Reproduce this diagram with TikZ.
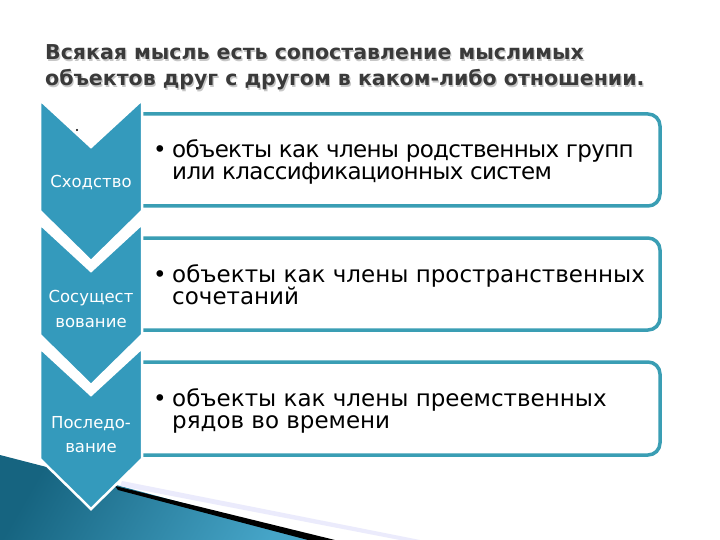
\documentclass[tikz,border=0pt]{standalone}
\usepackage{fontspec}
\setmainfont{DejaVu Sans}
\newfontfamily\bodyfont{DejaVu Sans}
\newfontfamily\bodytight[LetterSpace=-2.9]{DejaVu Sans}
\newfontfamily\chevfont{DejaVu Sans}
\definecolor{teal}{RGB}{52,154,188}
\definecolor{boxline}{RGB}{58,158,180}
\definecolor{titlegray}{RGB}{58,58,58}
\definecolor{darkteal}{RGB}{22,100,128}
\definecolor{lightteal}{RGB}{70,165,200}
\tikzset{
  chev/.style={fill=teal, draw=white, line width=2.5pt, line join=miter},
  itembox/.style={draw=boxline, line width=3.5pt, fill=white, rounded corners=12pt},
  titletext/.style={anchor=base west, inner sep=0pt, font=\fontsize{20.5}{24}\selectfont\bfseries, text=titlegray},
  titleshadow/.style={anchor=base west, inner sep=0pt, font=\fontsize{20.5}{24}\selectfont\bfseries, text=black!22},
  itemtext/.style={anchor=base west, inner sep=0pt, font=\bodyfont\fontsize{23}{26}\selectfont, text=black},
  itemtight/.style={anchor=base west, inner sep=0pt, font=\bodytight\fontsize{23}{26}\selectfont, text=black},
  chevtext/.style={anchor=base, inner sep=0pt, font=\chevfont\fontsize{16.5}{20}\selectfont, text=white},
}
\begin{document}
\begin{tikzpicture}[x=1pt,y=-1pt]
\useasboundingbox (0,0) rectangle (720,540);
\fill[white] (0,0) rectangle (720,540);
% bottom-left decoration
\shade[left color=darkteal, right color=lightteal, shading angle=60] (0,455) -- (120,486) -- (320,540) -- (0,540) -- cycle;
\fill[black!12!blue!8] (122,481) -- (420,540) -- (400,540) -- (120,486) -- cycle;
\fill[black] (115,486) -- (335,540) -- (308,540) -- (118,490) -- cycle;
% title
\node[titleshadow] (t1s) at (46.2,61.2) {Всякая мысль есть сопоставление мыслимых};
\node[titleshadow] (t2s) at (46.2,87.2) {объектов друг с другом в каком-либо отношении.};
\node[titletext] (t1) at (45,60) {Всякая мысль есть сопоставление мыслимых};
\node[titletext] (t2) at (45,86) {объектов друг с другом в каком-либо отношении.};
% boxes
\draw[itembox] (130,114) rectangle (660,206);
\draw[itembox] (130,238) rectangle (660,330);
\draw[itembox] (130,362) rectangle (660,455);
% chevrons
\foreach \y/\n in {100/c1,224/c2,348/c3}{
  \draw[chev] (40,\y) -- (91,\y+47) -- (142,\y) -- (142,\y+111) -- (91,\y+161) -- (40,\y+111) -- cycle;
}
\fill[black] (77,130) circle (1.2);
% chevron labels
\node[chevtext] (l1) at (91,188) {Сходство};
\node[chevtext] (l2a) at (91,302) {Сосущест};
\node[chevtext] (l2b) at (91,327) {вование};
\node[chevtext] (l3a) at (91,428) {Последо-};
\node[chevtext] (l3b) at (91,452) {вание};
% item texts
\node[itemtext] (b1) at (153,158) {•};
\node[itemtight] (i1a) at (172,158) {объекты как члены родственных групп};
\node[itemtight] (i1b) at (172,180) {или классификационных систем};
\node[itemtext] (b2) at (153,282) {•};
\node[itemtext] (i2a) at (172,282) {объекты как члены пространственных};
\node[itemtext] (i2b) at (172,304) {сочетаний};
\node[itemtext] (b3) at (153,406) {•};
\node[itemtext] (i3a) at (172,406) {объекты как члены преемственных};
\node[itemtext] (i3b) at (172,428) {рядов во времени};
\end{tikzpicture}
\end{document}
